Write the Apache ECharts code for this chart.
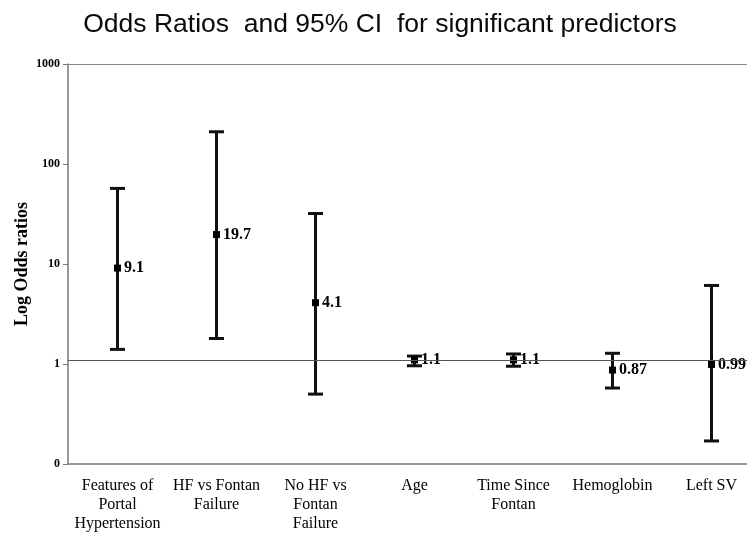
<!DOCTYPE html>
<html>
<head>
<meta charset="utf-8">
<script src="https://cdn.jsdelivr.net/npm/echarts@6/dist/echarts.min.js"></script>
<style>html,body{margin:0;padding:0;background:#fff;}#c{width:747px;height:536px;}</style>
</head>
<body>
<div id="c"></div>
<script>
const categories = ['Features of\nPortal\nHypertension', 'HF vs Fontan\nFailure', 'No HF vs\nFontan\nFailure', 'Age', 'Time Since\nFontan', 'Hemoglobin', 'Left SV'];
const oddsRatios = [9.1, 19.7, 4.1, 1.1, 1.1, 0.87, 0.99];
const lowerCI = [1.4, 1.8, 0.5, 0.96, 0.95, 0.575, 0.17];
const upperCI = [57, 210, 32, 1.2, 1.26, 1.28, 6.1];
const yTickLabels = {0.1: '0', 1: '1', 10: '10', 100: '100', 1000: '1000'};
const referenceLine = 1.1;
const topLine = 1000;

const chart = echarts.init(document.getElementById('c'), null, {renderer: 'canvas'});
const serif = '"Liberation Serif", "Times New Roman", serif';
chart.setOption({
  animation: false,
  backgroundColor: '#fff',
  title: {
    text: 'Odds Ratios  and 95% CI  for significant predictors',
    left: 375, top: 6, textAlign: 'center',
    textStyle: {fontFamily: '"Liberation Sans", Arial, sans-serif', fontWeight: 'normal', fontSize: 26.5, color: '#0a0a0a'}
  },
  grid: {left: 68, top: 64, width: 693, bottom: 72, outerBoundsMode: 'none', containLabel: false, show: false},
  xAxis: {
    type: 'category', data: categories, boundaryGap: true,
    axisLine: {show: true, lineStyle: {color: '#777', width: 1.5}},
    axisTick: {show: false},
    axisLabel: {interval: 0, fontFamily: serif, fontSize: 16, color: '#000', lineHeight: 19, margin: 12}
  },
  yAxis: {
    type: 'log', logBase: 10, min: 0.1, max: 1000,
    name: 'Log Odds ratios', nameLocation: 'middle', nameGap: 37, nameMoveOverlap: false,
    nameTextStyle: {fontFamily: serif, fontWeight: 'bold', fontSize: 18, color: '#000'},
    axisLine: {show: true, lineStyle: {color: '#777', width: 1.5}},
    axisTick: {show: true, length: 5, lineStyle: {color: '#777'}},
    splitLine: {show: false},
    axisLabel: {fontFamily: serif, fontWeight: 'bold', fontSize: 12, color: '#000', margin: 8,
      formatter: v => yTickLabels[Math.round(v * 10) / 10] !== undefined ? yTickLabels[Math.round(v * 10) / 10] : ''}
  },
  series: [
    {
      type: 'line', data: [], silent: true,
      markLine: {silent: true, symbol: 'none', label: {show: false},
        lineStyle: {color: '#555', width: 1, type: 'solid'},
        data: [
          {yAxis: referenceLine},
          {yAxis: topLine, lineStyle: {color: '#888', width: 1.2}}
        ]}
    },
    {
      type: 'custom',
      data: categories.map((c, i) => [i, lowerCI[i], upperCI[i]]),
      encode: {x: 0, y: [1, 2]},
      renderItem: function (params, api) {
        const lo = api.coord([api.value(0), api.value(1)]);
        const hi = api.coord([api.value(0), api.value(2)]);
        const h = 7.5;
        const st = {stroke: '#111', lineWidth: 3};
        return {type: 'group', children: [
          {type: 'line', shape: {x1: lo[0], y1: lo[1], x2: hi[0], y2: hi[1]}, style: st},
          {type: 'line', shape: {x1: lo[0] - h, y1: lo[1], x2: lo[0] + h, y2: lo[1]}, style: st},
          {type: 'line', shape: {x1: hi[0] - h, y1: hi[1], x2: hi[0] + h, y2: hi[1]}, style: st}
        ]};
      }
    },
    {
      type: 'scatter',
      data: oddsRatios.map((v, i) => [i, v]),
      symbol: 'rect', symbolSize: 7,
      itemStyle: {color: '#000', opacity: 1},
      label: {show: true, position: 'right', distance: 3, formatter: p => String(oddsRatios[p.dataIndex]),
        fontFamily: serif, fontWeight: 'bold', fontSize: 16, color: '#000', opacity: 1}
    }
  ]
});
</script>
</body>
</html>
